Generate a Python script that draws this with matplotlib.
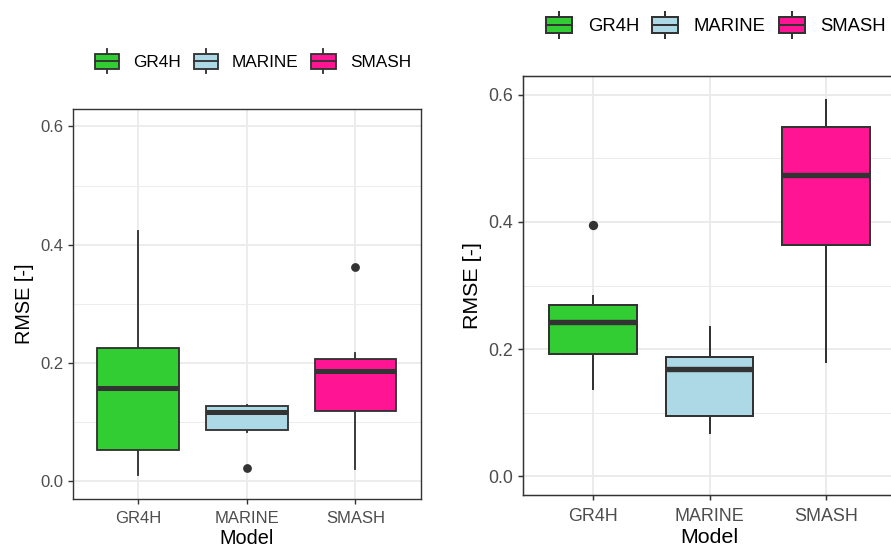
"""Two-panel RMSE boxplots per model (ggplot theme_bw look)."""

import matplotlib
matplotlib.use("Agg")
import matplotlib.pyplot as plt
from matplotlib.legend_handler import HandlerBase
from matplotlib.patches import Patch, Rectangle
from matplotlib.lines import Line2D

plt.rcParams["font.family"] = ["Liberation Sans", "DejaVu Sans"]

models = ["GR4H", "MARINE", "SMASH"]
colors = ["#32CD32", "#ADD8E6", "#FF1493"]

# left panel: box statistics
left_whislo = [0.011, 0.083, 0.021]
left_q1 = [0.052, 0.086, 0.119]
left_med = [0.157, 0.117, 0.186]
left_q3 = [0.225, 0.128, 0.206]
left_whishi = [0.424, 0.129, 0.217]
left_fliers = [[], [0.023], [0.363]]

# right panel
right_whislo = [0.137, 0.068, 0.179]
right_q1 = [0.193, 0.095, 0.363]
right_med = [0.242, 0.168, 0.474]
right_q3 = [0.269, 0.188, 0.549]
right_whishi = [0.283, 0.235, 0.592]
right_fliers = [[0.395], [], []]

EDGE = "#333333"
GRID = "#EBEBEB"
TICKTXT = "#4D4D4D"


class BoxKeyHandler(HandlerBase):
    """ggplot-like boxplot legend key."""

    def create_artists(self, legend, orig_handle, xdescent, ydescent,
                       width, height, fontsize, trans):
        x0, y0 = -xdescent, -ydescent
        lw = orig_handle.get_linewidth()
        cx = x0 + width / 2
        whisk = Line2D([cx, cx], [y0 - 0.28 * height, y0 + 1.28 * height],
                       color=EDGE, lw=lw, transform=trans)
        box = Rectangle((x0, y0), width, height, facecolor=orig_handle.get_facecolor(),
                        edgecolor=EDGE, lw=lw, transform=trans)
        med = Line2D([x0, x0 + width], [y0 + height / 2] * 2,
                     color=EDGE, lw=lw, transform=trans)
        return [whisk, box, med]


def draw_panel(fig, rect, s, whislo, q1, med, q3, whishi, fliers,
               legend_xy):
    ax = fig.add_axes(rect)
    stats = []
    for i, name in enumerate(models):
        stats.append(dict(label=name, whislo=whislo[i], q1=q1[i], med=med[i],
                          q3=q3[i], whishi=whishi[i], fliers=fliers[i]))
    lw = 1.34 * s
    bp = ax.bxp(stats, positions=[1, 2, 3], widths=0.75, patch_artist=True,
                showcaps=False, manage_ticks=False,
                boxprops=dict(edgecolor=EDGE, linewidth=lw),
                whiskerprops=dict(color=EDGE, linewidth=lw),
                medianprops=dict(color=EDGE, linewidth=2.7 * lw, solid_capstyle="butt"),
                flierprops=dict(marker="o", markersize=5.3 * s, markerfacecolor=EDGE,
                                markeredgecolor=EDGE))
    for patch, c in zip(bp["boxes"], colors):
        patch.set_facecolor(c)
        patch.set_zorder(3)
    for m in bp["medians"]:
        m.set_zorder(4)

    ax.set_xlim(0.4, 3.6)
    ax.set_ylim(-0.03, 0.63)
    ax.set_xticks([1, 2, 3])
    ax.set_xticklabels(models)
    ax.set_yticks([0.0, 0.2, 0.4, 0.6])
    ax.set_yticks([0.1, 0.3, 0.5], minor=True)
    ax.grid(True, which="major", color=GRID, lw=1.34 * s, zorder=0)
    ax.grid(True, which="minor", axis="y", color=GRID, lw=0.67 * s, zorder=0)
    ax.set_axisbelow(True)
    ax.tick_params(axis="both", which="major", length=3.6 * s, width=1.0 * s,
                   color=EDGE, labelcolor=TICKTXT, labelsize=12.0 * s, pad=3.2 * s)
    ax.tick_params(axis="x", which="major", pad=5.0 * s)
    ax.tick_params(axis="y", which="minor", length=0)
    for sp in ax.spines.values():
        sp.set_color(EDGE)
        sp.set_linewidth(1.0 * s)
    ax.set_xlabel("Model", fontsize=14.3 * s, labelpad=2.0 * s)
    ax.set_ylabel("RMSE [-]", fontsize=14.3 * s, labelpad=4.5 * s)

    handles = [Patch(facecolor=c, edgecolor=EDGE, linewidth=lw) for c in colors]
    fig.legend(handles, models, loc="center", bbox_to_anchor=legend_xy, ncol=3,
               frameon=False, fontsize=12.4 * s, handlelength=1.41, handleheight=1.0,
               handletextpad=0.83, columnspacing=0.72,
               handler_map={Patch: BoxKeyHandler()})
    return ax


fig = plt.figure(figsize=(8.91, 5.47), dpi=100)

draw_panel(fig, [0.0816, 0.0878, 0.3906, 0.7135], 1.0,
           left_whislo, left_q1, left_med, left_q3, left_whishi, left_fliers,
           (0.2838, 0.8867))
draw_panel(fig, [0.5873, 0.0945, 0.418, 0.767], 1.075,
           right_whislo, right_q1, right_med, right_q3, right_whishi, right_fliers,
           (0.8038, 0.9525))

fig.savefig("out.png", dpi=100)
